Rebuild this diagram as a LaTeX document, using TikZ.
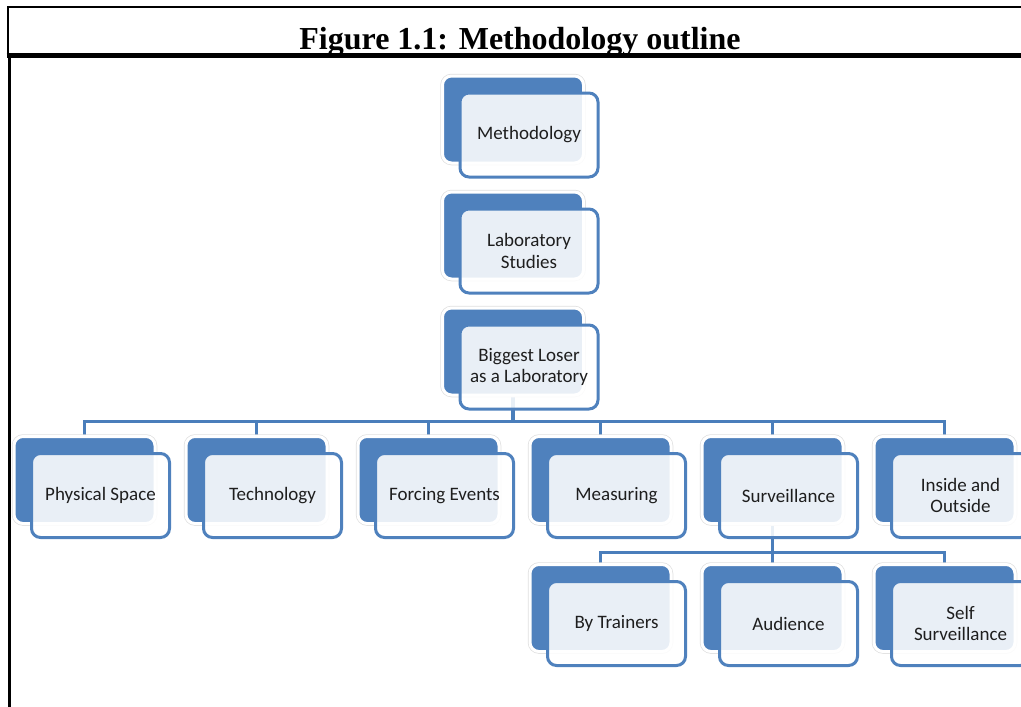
\documentclass[tikz,border=0pt]{standalone}
\usepackage{fontspec}
\setmainfont{Carlito}
\newfontfamily\titlefont{Liberation Serif}
\usetikzlibrary{backgrounds}
\definecolor{cardblue}{HTML}{4F81BD}
\definecolor{linkblue}{HTML}{4A7EBB}
\definecolor{inktext}{HTML}{1E1E1E}

\begin{document}
\begin{tikzpicture}[x=1pt, y=-1pt,
        every node/.append style={font=\fontsize{19}{21.5}\selectfont, text=inktext},
        link/.style={draw=linkblue, line width=3.5pt}]
      \tikzstyle{back} = [rounded corners=9pt, minimum width=141pt, minimum height=87pt, inner sep=0pt,
        fill=cardblue, draw=white, line width=3pt, preaction={draw=black!12, line width=4.5pt}]
      \tikzstyle{front} = [rounded corners=9pt, minimum width=138pt, minimum height=84pt, inner sep=0pt,
        align=center, fill=white, fill opacity=0.88, text opacity=1, draw=cardblue, line width=3pt,
        shift={(16,15.5)}]
      \useasboundingbox (0,0) rectangle (1021,707);

      % page frame and caption
      \begin{scope}
        \clip (0,0) rectangle (1021,53);
        \node (title) [font=\titlefont\bfseries\fontsize{32}{36}\selectfont, text=black, anchor=base]
          at (520,49.5) {Figure 1.1: Methodology outline};
      \end{scope}
      \draw[line width=2pt] (1021,6.5) -- (8,6.5) -- (8,55);
      \draw[line width=5pt] (6.5,55.5) -- (1021,55.5);
      \draw[line width=3pt] (9.5,55) -- (9.5,707);

      % top column
      \node (meth) [back] at (513,119.5) {};
      \node (methf) [front] at (meth) {Methodology};
      \node (lab) [back] at (513,235.5) {};
      \node (labf) [front] at (lab) {Laboratory\\Studies};
      \node (loser) [back] at (513,351.5) {};
      \node (loserf) [front] at (loser) {Biggest Loser\\as a Laboratory};

      % second row
      \node (phys) [back] at (84.5,480) {};
      \node (physf) [front] at (phys) {Physical Space};
      \node (tech) [back] at (256.5,480) {};
      \node (techf) [front] at (tech) {Technology};
      \node (forcing) [back] at (428.5,480) {};
      \node (forcingf) [front] at (forcing) {Forcing Events};
      \node (measure) [back] at (600.5,480) {};
      \node (measuref) [front] at (measure) {Measuring};
      \node (surv) [back] at (772.5,480) {};
      \node (survf) [front] at (surv) {Surveillance};
      \node (inout) [back] at (944.5,480) {};
      \node (inoutf) [front] at (inout) {Inside and\\Outside};

      % third row
      \node (trainers) [back] at (600.5,608) {};
      \node (trainersf) [front] at (trainers) {By Trainers};
      \node (audience) [back] at (772.5,608) {};
      \node (audiencef) [front] at (audience) {Audience};
      \node (self) [back] at (944.5,608) {};
      \node (selff) [front] at (self) {Self\\Surveillance};

      \coordinate (hub) at (513,421.5);
      \coordinate (survhub) at (772.5,552.5);
      \begin{scope}[on background layer]
        \draw[link] (loser.center) -- (hub);
        \draw[link] (hub) -| (phys.north);
        \draw[link] (hub) -| (tech.north);
        \draw[link] (hub) -| (forcing.north);
        \draw[link] (hub) -| (measure.north);
        \draw[link] (hub) -| (surv.north);
        \draw[link] (hub) -| (inout.north);
        \draw[link] (surv.center) -- (survhub);
        \draw[link] (survhub) -| (trainers.north);
        \draw[link] (survhub) -| (audience.north);
        \draw[link] (survhub) -| (self.north);
      \end{scope}
    \end{tikzpicture}
\end{document}
